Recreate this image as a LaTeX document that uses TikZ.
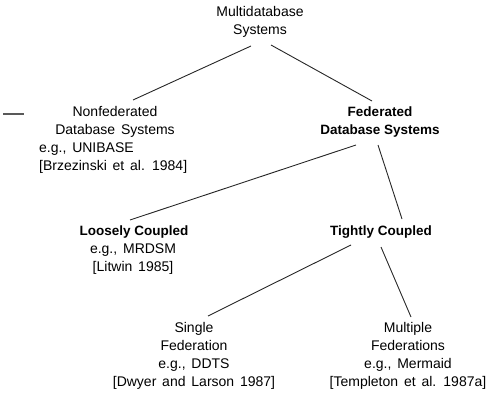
\documentclass[tikz,border=0pt]{standalone}
\usepackage{fontspec}
\setmainfont[WordSpace=1.5,BoldFeatures={WordSpace=1.0}]{Liberation Sans}
\begin{document}
\begin{tikzpicture}[x=1pt,y=-1pt,
  lbl/.style={inner sep=0pt,align=center,font=\fontsize{14}{18}\selectfont},
  lblb/.style={lbl,font=\fontsize{13.5}{18}\selectfont\bfseries},
  lbll/.style={inner sep=0pt,align=left,font=\fontsize{14}{18}\selectfont},
  edge/.style={line width=0.9pt,black!85}]
\useasboundingbox (0,0) rectangle (490,398);

% classification tree of multidatabase systems
\node[lbl]  (multi)   at (260,22)  {Multidatabase\\Systems};
\node[lbl]  (nonfed)  at (115,122) {Nonfederated\\Database Systems};
\node[lbll,anchor=west] (nonfedref) at (39,158) {e.g., UNIBASE\\{[}Brzezinski et al. 1984{]}};
\node[lblb] (fed)     at (380,122) {Federated\\Database Systems};
\node[lblb] (loose)   at (134,232) {Loosely Coupled};
\node[lbl]  (looseref) at (133,259) {e.g., MRDSM\\{[}Litwin 1985{]}};
\node[lblb] (tight)   at (381,232) {Tightly Coupled};
\node[lbl]  (single)  at (194,356) {Single\\Federation\\e.g., DDTS\\{[}Dwyer and Larson 1987{]}};
\node[lbl]  (multiple) at (408,356) {Multiple\\Federations\\e.g., Mermaid\\{[}Templeton et al. 1987a{]}};

% connectors
\draw[edge] ([shift={(-9,24)}]multi.center) -- ([shift={(18,-22)}]nonfed.center);
\draw[edge] ([shift={(11,23)}]multi.center) -- ([shift={(-8,-21)}]fed.center);
\draw[edge] ([shift={(-24,23)}]fed.center) -- ([shift={(-4,-12)}]loose.center);
\draw[edge] ([shift={(-2,23)}]fed.center) -- ([shift={(21,-13)}]tight.center);
\draw[edge] ([shift={(-30,13)}]tight.center) -- ([shift={(14,-40)}]single.center);
\draw[edge] ([shift={(0,15)}]tight.center) -- ([shift={(3,-39)}]multiple.center);

% margin mark
\draw[line width=2.5pt,black!65] (3,114) -- (24,114);
\end{tikzpicture}
\end{document}
